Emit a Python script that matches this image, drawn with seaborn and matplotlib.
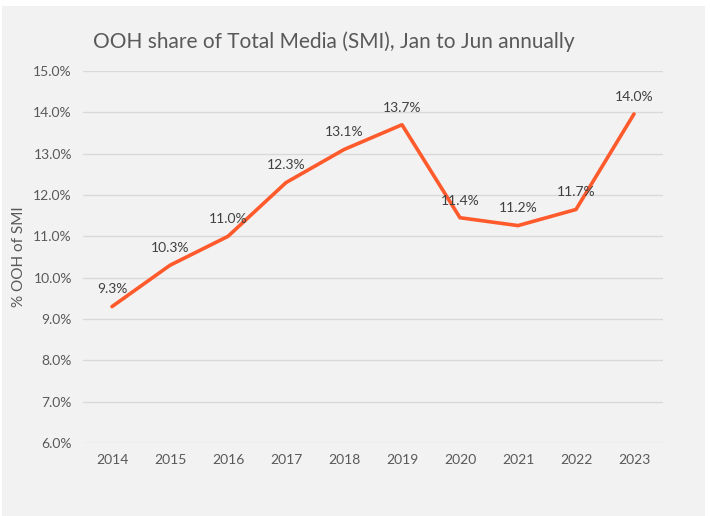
import pandas as pd
import matplotlib.pyplot as plt
import seaborn as sns
from matplotlib.patches import Rectangle
from matplotlib.ticker import FuncFormatter

# data
years = ["2014", "2015", "2016", "2017", "2018", "2019", "2020", "2021", "2022", "2023"]
share = [9.3, 10.3, 11.0, 12.3, 13.1, 13.7, 11.45, 11.26, 11.65, 13.96]
labels = ["9.3%", "10.3%", "11.0%", "12.3%", "13.1%", "13.7%", "11.4%", "11.2%", "11.7%", "14.0%"]

df = pd.DataFrame({"year": years, "share": share})

sns.set_style("white")
plt.rcParams['font.family'] = ['Lato', 'DejaVu Sans']

fig = plt.figure(figsize=(7.1, 5.16), dpi=100)
fig.patch.set_facecolor("white")
# light grey chart area
fig.patches.append(Rectangle((2 / 710, 0), 703 / 710, 1 - 6 / 516, transform=fig.transFigure,
                             facecolor="#f2f2f2", edgecolor="none", zorder=-5))

ax = fig.add_axes([83 / 710, 1 - 443 / 516, 580 / 710, 372 / 516])
ax.set_zorder(2)
ax.set_facecolor("none")

sns.lineplot(x="year", y="share", data=df, ax=ax, color="#ff5a2c", linewidth=2.6, sort=False)

for i, (v, t) in enumerate(zip(share, labels)):
    ax.annotate(t, (i, v), xytext=(0, 8), textcoords="offset points", ha="center", va="bottom",
                fontsize=10, color="#404040")

ax.set_ylim(6, 15)
ax.set_xlim(-0.5, len(years) - 0.5)
ax.set_yticks(range(6, 16))
ax.yaxis.set_major_formatter(FuncFormatter(lambda v, p: f"{v:.1f}%"))
ax.grid(axis="y", color="#d9d9d9", linewidth=1)
ax.grid(axis="x", visible=False)
for s in ax.spines.values():
    s.set_visible(False)
ax.tick_params(axis="both", length=0, labelsize=10, labelcolor="#595959", pad=8)
ax.set_xlabel("")
ax.set_ylabel("% OOH of SMI", fontsize=11, color="#595959", labelpad=5)
fig.text(93 / 710, 1 - 42 / 516, "OOH share of Total Media (SMI), Jan to Jun annually",
         fontsize=15, color="#595959", ha="left", va="center")

fig.savefig("out.png", dpi=100)
